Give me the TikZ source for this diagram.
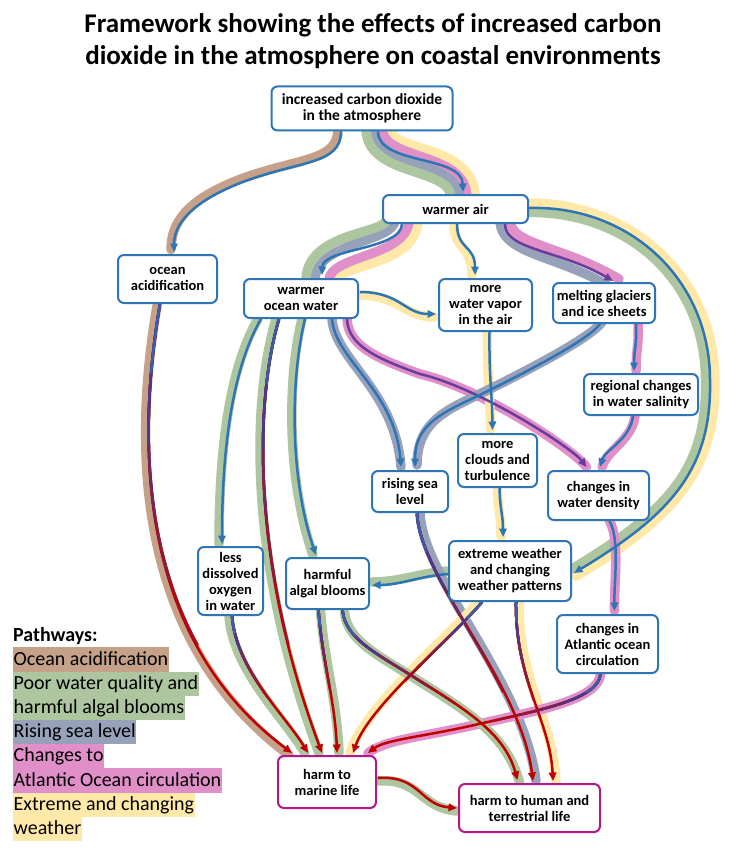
\documentclass[tikz,border=0pt]{standalone}
\usepackage{fontspec}
\setmainfont{Carlito}
\usetikzlibrary{arrows.meta,calc}
\pgfdeclarelayer{bg}\pgfdeclarelayer{bands}\pgfdeclarelayer{lines}
\pgfsetlayers{bg,bands,lines,main}
\definecolor{cblue}{HTML}{2E75B6}
\definecolor{cred}{HTML}{C00000}
\definecolor{cpurp}{HTML}{4B3A8C}
\definecolor{cviolet}{HTML}{6A3C9C}
\definecolor{cmag}{HTML}{B5178A}
\definecolor{bbrown}{HTML}{C4A188}
\definecolor{bgreen}{HTML}{ADC69F}
\definecolor{bgray}{HTML}{97A1BA}
\definecolor{bpink}{HTML}{E08FC8}
\definecolor{byellow}{HTML}{FFE8A8}
\colorlet{mixA}{cred!78!cpurp}
\colorlet{mixB}{cred!55!cpurp}
\colorlet{mixC}{cred!30!cpurp}
\colorlet{mixD}{cpurp}
\colorlet{mixE}{cblue!60!cpurp}
\tikzset{
 box/.style={draw=cblue, line width=2pt, rounded corners=6pt, fill=white, align=center,
   font=\bfseries\fontsize{14.5}{16}\selectfont, inner sep=1pt},
 harmbox/.style={box, draw=cmag},
 band/.style={line width=9.5pt, line cap=round},
 conn/.style={draw=cblue, line width=2.5pt, -{Triangle[length=8.5pt,width=7.5pt]}},
 rconn/.style={draw=cred, line width=2.5pt, -{Triangle[length=8.5pt,width=7.5pt]}},
 gseg/.style={line width=2.5pt, line cap=butt},
 leg/.style={anchor=west, inner xsep=0.5pt, inner ysep=0pt, minimum height=24.2pt,
   font=\fontsize{20}{22}\selectfont, text height=14.5pt, text depth=3.5pt},
}
\newcommand\conline[4]{%
 \begin{pgfonlayer}{bands}\draw[band,draw=#1,transform canvas={shift={#2}}] #4;\end{pgfonlayer}%
 \begin{pgfonlayer}{lines}\draw[#3] #4;\end{pgfonlayer}}
\newcommand\gradline[4]{%
 \begin{pgfonlayer}{bands}\draw[band,draw=#1,transform canvas={shift={#2}}] #4;\end{pgfonlayer}%
 \begin{pgfonlayer}{lines}%
 \draw[rconn] #4;%
 \pgfmathsetmacro\glA{#3}\pgfmathsetmacro\glB{0.8*#3}\pgfmathsetmacro\glC{0.6*#3}%
 \pgfmathsetmacro\glD{0.4*#3}\pgfmathsetmacro\glE{0.2*#3}%
 \draw[gseg,draw=mixA,dash pattern=on \glA pt off 3000pt] #4;%
 \draw[gseg,draw=mixB,dash pattern=on \glB pt off 3000pt] #4;%
 \draw[gseg,draw=mixC,dash pattern=on \glC pt off 3000pt] #4;%
 \draw[gseg,draw=mixD,dash pattern=on \glD pt off 3000pt] #4;%
 \draw[gseg,draw=mixE,dash pattern=on \glE pt off 3000pt] #4;%
 \end{pgfonlayer}}
\begin{document}
\begin{tikzpicture}[x=1pt,y=-1pt]
\begin{pgfonlayer}{bg}
\fill[white] (0,0) rectangle (740,853);
\end{pgfonlayer}
\useasboundingbox (0,0) rectangle (740,853);

% title
\node[font=\bfseries\fontsize{27}{32}\selectfont, align=center] (title) at (373,41)
 {Framework showing the effects of increased carbon\\dioxide in the atmosphere on coastal environments};

% nodes
\node[box, minimum width=181pt, minimum height=44pt, font=\bfseries\fontsize{15.5}{16.5}\selectfont] (co2) at (362,108.5) {increased carbon dioxide\\in the atmosphere};
\node[box, minimum width=145pt, minimum height=28pt] (air) at (455.5,209) {warmer air};
\node[box, minimum width=99pt, minimum height=48pt] (acid) at (167.5,279) {ocean\\acidification};
\node[box, minimum width=114pt, minimum height=39pt] (ocw) at (301,298.5) {warmer\\ocean water};
\node[box, minimum width=93pt, minimum height=52pt] (vapor) at (485.5,305) {more\\water vapor\\in the air};
\node[box, minimum width=102pt, minimum height=40pt] (glac) at (604,303) {melting glaciers\\and ice sheets};
\node[box, minimum width=114pt, minimum height=41pt] (salin) at (641,394.5) {regional changes\\in water salinity};
\node[box, minimum width=76pt, minimum height=41pt] (rise) at (410,491.5) {rising sea\\level};
\node[box, minimum width=79pt, minimum height=53pt] (cloud) at (497.5,460.5) {more\\clouds and\\turbulence};
\node[box, minimum width=101pt, minimum height=49pt] (dens) at (598.5,495.5) {changes in\\water density};
\node[box, minimum width=122pt, minimum height=60pt] (ext) at (510,571) {extreme weather\\and changing\\weather patterns};
\node[box, minimum width=83pt, minimum height=51pt] (algal) at (327.5,583.5) {harmful\\algal blooms};
\node[box, minimum width=65pt, minimum height=68pt] (oxy) at (230.5,581) {less\\dissolved\\oxygen\\in water};
\node[box, minimum width=101pt, minimum height=58pt] (atl) at (607.5,644) {changes in\\Atlantic ocean\\circulation};
\node[harmbox, minimum width=98pt, minimum height=52pt] (hml) at (327,782) {harm to\\marine life};
\node[harmbox, minimum width=141pt, minimum height=48pt] (hhl) at (529.5,808) {harm to human and\\terrestrial life};

% legend
\node[anchor=west, inner sep=0pt, font=\bfseries\fontsize{20}{22}\selectfont] (pw) at (13,636) {Pathways:};
\node[leg, fill=bbrown] (lg1) at (13,659.5) {Ocean acidification};
\node[leg, fill=bgreen] (lg2) at (13,683.7) {Poor water quality and};
\node[leg, fill=bgreen] (lg3) at (13,707.9) {harmful algal blooms};
\node[leg, fill=bgray] (lg4) at (13,732.1) {Rising sea level};
\node[leg, fill=bpink] (lg5) at (13,756.3) {Changes to};
\node[leg, fill=bpink] (lg6) at (13,780.5) {Atlantic Ocean circulation};
\node[leg, fill=byellow] (lg7) at (13,804.7) {Extreme and changing\ };
\node[leg, fill=byellow] (lg8) at (13,828.9) {weather};

% ---- multi-band connectors: bands
\begin{pgfonlayer}{bands}
 % co2 -> warmer air
 \draw[band,draw=byellow] (390,128) .. controls (390,153) and (474,143) .. (475,197);
 \draw[band,draw=bpink] (382,128) .. controls (382,161) and (466,151) .. (467,197);
 \draw[band,draw=bgray] (374,128) .. controls (374,169) and (458,159) .. (459,197);
 \draw[band,draw=bgreen] (366,128) .. controls (366,177) and (450,167) .. (451,197);
 % warmer air -> warmer ocean water
 \draw[band,draw=byellow] (418,220) .. controls (417,266) and (339,264) .. (338,280);
 \draw[band,draw=bpink] (409,220) .. controls (408,257) and (330,255) .. (329,280);
 \draw[band,draw=bgray] (395,220) .. controls (394,243) and (316,241) .. (315,280);
 \draw[band,draw=bgreen] (386,220) .. controls (385,234) and (307,232) .. (306,280);
 % warmer air -> glaciers
 \draw[band,draw=bpink] (510,220) .. controls (510,245) and (561,245) .. (619,279);
 \draw[band,draw=bgray] (500,220) .. controls (500,255) and (559,255) .. (610,287);
 % warmer air -> extreme weather
 \draw[band,draw=byellow,line width=10pt] (524,203.5) .. controls (631,200.5) and (714.5,278.5) .. (714.5,380)
   .. controls (716.5,470) and (672.7,518.6) .. (576,576);
 \draw[band,draw=bgreen] (524,212.5) .. controls (628.5,209.5) and (705.5,281.5) .. (705.5,380)
   .. controls (707.5,470) and (667.3,511.4) .. (572,569);
\end{pgfonlayer}
\begin{pgfonlayer}{lines}
 \draw[conn] ($(co2.south)+(16,0)$) .. controls (378,165) and (462,155) .. ($(air.north)+(7.5,-2)$);
 \draw[conn] ($(air.south)+(-53.5,0)$) .. controls (401,250) and (323,248) .. ($(ocw.north)+(21,-3)$);
 \draw[conn,draw=cviolet] ($(air.south)+(49.5,0)$) .. controls (505,250) and (560,250) .. ($(glac.north)+(9,-1)$);
 \draw[conn] ($(air.east)+(0,-1)$) .. controls (630,205) and (710,280) .. (710,380)
   .. controls (712,470) and (670,515) .. ($(ext.east)+(2,2)$);
\end{pgfonlayer}

% ---- single band connectors
\conline{bbrown}{(-3,-2.5)}{conn}{($(co2.south)+(-21,0)$) .. controls (341,165) and (300,160) .. (240,183) .. controls (190,203) and (174,225) .. ($(acid.north)+(6.5,-2)$)}
\conline{byellow}{(-3,0)}{conn}{($(air.south)+(1.5,0)$) .. controls (457,250) and (475,245) .. ($(vapor.north)+(-10.5,-3)$)}
\conline{byellow}{(-1,3)}{conn}{($(ocw.east)+(1,-6.5)$) .. controls (400,292) and (405,314) .. ($(vapor.west)+(-2,9)$)}
\conline{bgreen}{(-3,0)}{conn}{($(ocw.south)+(-40,0)$) .. controls (240,355) and (222,420) .. ($(oxy.north)+(-8.5,-2)$)}
\conline{bgreen}{(-3,0)}{conn}{($(ocw.south)+(4,0)$) .. controls (290,380) and (290,480) .. ($(algal.north)+(-11.5,-2)$)}
\conline{bgray}{(0,0)}{conn}{($(ocw.south)+(31,0)$) .. controls (335,360) and (395,390) .. ($(rise.north)+(-9,-3)$)}
\conline{bpink}{(0,0)}{conn,draw=cviolet}{($(ocw.south)+(46,0)$) .. controls (348,345) and (375,358) .. (420,374) .. controls (480,388) and (572,448) .. ($(dens.north)+(-12,-3)$)}
\conline{byellow}{(-2,0)}{conn}{($(vapor.south)+(4,0)$) .. controls (489,380) and (492,390) .. ($(cloud.north)+(-5,-3)$)}
\conline{bgray}{(2,-2)}{conn}{($(glac.south)+(-4,0)$) .. controls (590,338) and (540,365) .. (490,390) .. controls (450,410) and (415,420) .. ($(rise.north)+(5,-3)$)}
\conline{bpink}{(2,0)}{conn}{($(glac.south)+(32,0)$) .. controls (637,345) and (634,350) .. ($(salin.north)+(-7,-2)$)}
\conline{bpink}{(2,0)}{conn}{($(salin.south)+(-8,0)$) .. controls (630,440) and (605,450) .. ($(dens.north)+(1.5,-3)$)}
\conline{byellow}{(-2,0)}{conn}{($(cloud.south)+(2,0)$) .. controls (500,510) and (503,515) .. ($(ext.north)+(-7,-3)$)}
\conline{bpink}{(0,0)}{conn}{($(dens.south)+(11,0)$) .. controls (620,540) and (614,580) .. ($(atl.north)+(7,-3)$)}
\conline{bgreen}{(0,-3)}{conn}{($(ext.west)+(0,3)$) .. controls (420,576) and (400,585) .. ($(algal.east)+(2,1.5)$)}

% ---- connectors into harm nodes
\gradline{bgreen}{(-3,0)}{330}{($(ocw.south)+(-22,0)$) .. controls (255,400) and (250,560) .. ($(hml.north)+(-5,-2)$)}
\gradline{bgray}{(3,0)}{200}{($(rise.south)+(7,0)$) .. controls (420,580) and (520,680) .. ($(hhl.north)+(3.5,-2)$)}
\gradline{byellow}{(-3,-1)}{110}{($(ext.south)+(-28,0)$) .. controls (455,635) and (370,705) .. ($(hml.north)+(26,-2)$)}
\gradline{byellow}{(3,0)}{100}{($(ext.south)+(6,0)$) .. controls (515,680) and (550,720) .. ($(hhl.north)+(23.5,-2)$)}
\gradline{bpink}{(0,0)}{120}{($(atl.south)+(-7,0)$) .. controls (598,700) and (540,710) .. (470,726) .. controls (420,737) and (385,740) .. ($(hml.north)+(41,-2)$)}
\gradline{bgreen}{(2,0)}{80}{($(algal.south)+(-9,0)$) .. controls (322,660) and (335,700) .. ($(hml.north)+(10,-2)$)}
\gradline{bgreen}{(2,2)}{150}{($(algal.south)+(15,0)$) .. controls (345,640) and (380,655) .. (420,681) .. controls (470,712) and (505,735) .. ($(hhl.north)+(-12,-3)$)}
\gradline{bgreen}{(-3,0)}{90}{($(oxy.south)+(1.5,0)$) .. controls (236,670) and (285,715) .. ($(hml.north)+(-19,-2)$)}
\gradline{bbrown}{(-3,2)}{350}{($(acid.south)+(-7.5,0)$) .. controls (135,450) and (140,640) .. ($(hml.north)+(-35,-2)$)}
\conline{bgreen}{(0,3)}{rconn}{($(hml.east)+(1,-4)$) .. controls (420,775) and (420,805) .. ($(hhl.west)+(-1,0)$)}
\end{tikzpicture}
\end{document}
